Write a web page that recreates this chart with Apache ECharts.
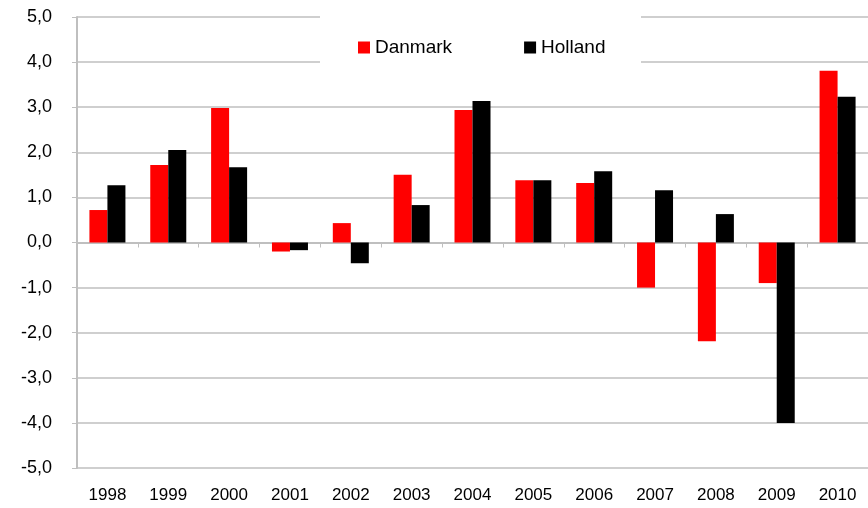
<!DOCTYPE html>
<html>
<head>
<meta charset="utf-8">
<script src="https://cdn.jsdelivr.net/npm/echarts@6/dist/echarts.min.js"></script>
<style>
  html, body { margin: 0; padding: 0; background: #fff; }
  #main { width: 868px; height: 508px; }
</style>
</head>
<body>
<div id="main"></div>
<script>
// data
var years = ['1998', '1999', '2000', '2001', '2002', '2003', '2004', '2005', '2006', '2007', '2008', '2009', '2010'];
var danmark = [0.72, 1.72, 2.98, -0.2, 0.43, 1.5, 2.94, 1.38, 1.32, -1.0, -2.19, -0.9, 3.81];
var holland = [1.27, 2.05, 1.67, -0.17, -0.46, 0.83, 3.14, 1.38, 1.58, 1.16, 0.63, -4.0, 3.23];
var seriesNames = ['Danmark', 'Holland'];

var myChart = echarts.init(document.getElementById('main'));
var font = 'Liberation Sans, Arial, sans-serif';
var gridColor = '#bfbfbf';

var option = {
    animation: false,
    color: ['#ff0000', '#000000'],
    grid: {
        left: 77,
        right: -5,
        top: 17,
        bottom: 40
    },
    // witte boks bag legenden
    graphic: [{
        type: 'rect',
        z: 5,
        shape: { x: 320, y: 6, width: 321, height: 70 },
        style: { fill: '#fff' }
    }],
    legend: {
        data: seriesNames,
        left: 353,
        top: 33,
        z: 10,
        itemWidth: 12,
        itemHeight: 12,
        itemGap: 72,
        icon: 'rect',
        textStyle: {
            fontFamily: font,
            fontSize: 19,
            color: '#000'
        }
    },
    xAxis: [{
        // aksen ved nul med tick marks
        type: 'category',
        data: years,
        axisLine: { onZero: true, lineStyle: { color: gridColor, width: 2 } },
        axisTick: { show: true, inside: false, length: 5, lineStyle: { color: gridColor } },
        axisLabel: { show: false }
    }, {
        // kun labels i bunden
        type: 'category',
        data: years,
        position: 'bottom',
        axisLine: { show: false, onZero: false },
        axisTick: { show: false },
        axisLabel: {
            margin: 19,
            fontFamily: font,
            fontSize: 17,
            color: '#000'
        }
    }],
    yAxis: {
        type: 'value',
        min: -5,
        max: 5,
        interval: 1,
        axisLine: { show: true, lineStyle: { color: gridColor, width: 2 } },
        axisTick: { show: true, length: 5, lineStyle: { color: gridColor } },
        splitLine: { lineStyle: { color: gridColor, width: 1.5 } },
        axisLabel: {
            margin: 25,
            fontFamily: font,
            fontSize: 18,
            color: '#000',
            formatter: function (v) {
                return v.toFixed(1).replace('.', ',');
            }
        }
    },
    series: [{
        name: seriesNames[0],
        type: 'bar',
        xAxisIndex: 0,
        barWidth: 18,
        barGap: '0%',
        data: danmark
    }, {
        name: seriesNames[1],
        type: 'bar',
        xAxisIndex: 0,
        barWidth: 18,
        barGap: '0%',
        data: holland
    }]
};

myChart.setOption(option);
</script>
</body>
</html>
